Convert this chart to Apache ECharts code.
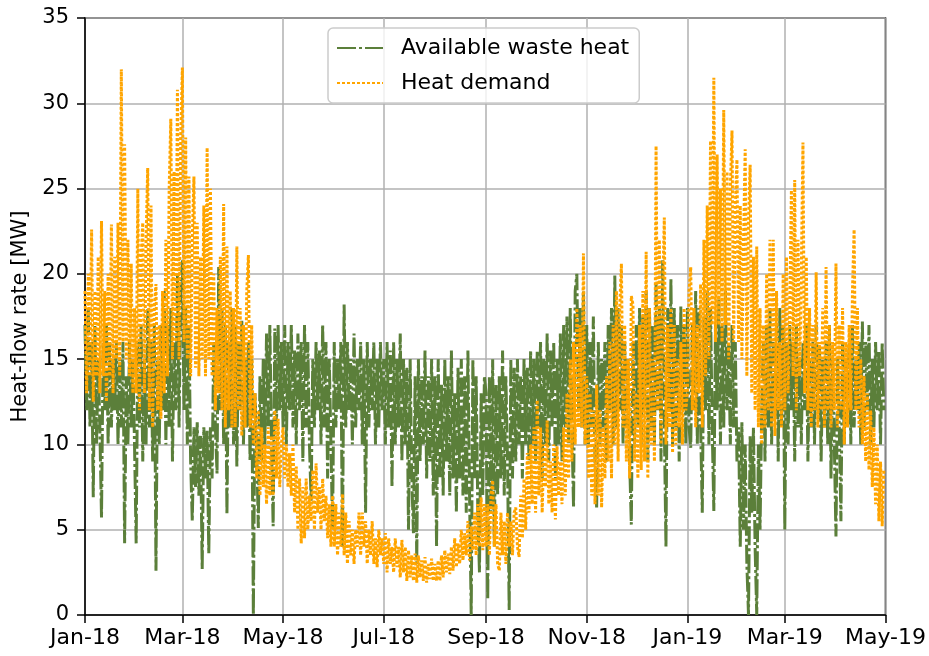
<!DOCTYPE html>
<html>
<head>
<meta charset="utf-8">
<script src="https://cdn.jsdelivr.net/npm/echarts@6/dist/echarts.min.js"></script>
<style>
  html, body { margin: 0; padding: 0; background: #ffffff; }
  #chart { width: 929px; height: 656px; }
</style>
</head>
<body>
<div id="chart"></div>
<script>
// Daily samples starting on this date (year, month index, day)
const startDate = [2018, 0, 1];

// Axis tick dates (every second month)
const tickDates = ['2018-01-01', '2018-03-01', '2018-05-01', '2018-07-01', '2018-09-01',
                   '2018-11-01', '2019-01-01', '2019-03-01', '2019-05-01'];
const monthNames = ['Jan', 'Feb', 'Mar', 'Apr', 'May', 'Jun', 'Jul', 'Aug', 'Sep', 'Oct', 'Nov', 'Dec'];

const seriesNames = ['Available waste heat', 'Heat demand'];

// Available waste heat [MW], one value per day
const wasteHeat = [
  // Jan 2018
  17,12,18,11,16,6.9,17,10,15,11,5.7,16,12,17,10,16,11,15,12,16,10,15,11,16,4.2,14,10,16,11,15,10,
  // Feb 2018
  4.2,16,11,17,9,15,10,18,11,16,9,17,2.6,15,10,17,12,19,10,17,11,18,9,16,12,20,11,19,
  // Mar 2018
  20.8,12,18,10,17,9,5.5,11,7.5,11.3,7,10.5,2.7,11,8,10.8,3.6,11,8,16,11,8.3,20.4,12,18,10,17,5.9,16,11,18,
  // Apr 2018
  10,17,8.7,16,12,17.3,10,15,11,16,9,15,0,13,10,5.1,14,9,15,10,16.5,11,17,10,5.2,16.8,11,17,12,16,
  // May 2018
  11,17,10,16,12,17,11,15.5,10,16.5,12,16,9,17,11,16,10,6.7,15,11,16,12,15.5,10,17,11,16,8,15,10,5,
  // Jun 2018
  16,11,15,12,16,4,18.2,11,16,12,15,10,16.5,11,15,12,16,10,15,6,16,11,15,12,16,10,15,11,16,12,
  // Jul 2018
  15,10,16,11,15.5,7.5,16,10,15,11,16.5,9,15,10,14.5,5,15,8,4.8,14,3,15,9,14,10,15.5,8,14,9,15,7,
  // Aug 2018
  14,4,15,8,13.5,7,15,9,14,7,15.5,8,13,6,14.5,8,15,7,14,6,15.5,7,0,15,8,14,6,2.5,13,7,14,
  // Sep 2018
  13,0.9,14,6,15,4,13.5,7,14,8,15.5,7,14,9,0.3,15,8,14.5,9,15,10,14,8,15,10,14.5,9,15.5,10,15,
  // Oct 2018
  9,15.5,11,16,8,15,10,16.5,9,15.5,11,16,8,15,10,16.5,9,17,11,17.5,10,18,11,6.3,19,20,12,18,11,19,10,
  // Nov 2018
  17,10,16,11,17.5,9,6.3,16,10,15,11,16,9,17,12,18,10,19.9,11,18,12,17,10,16,11,15,9,5.3,16,10,
  // Dec 2018
  17,11,18,10,17.5,12,19,9,18,11,17,10,19.5,12,18,9,20.8,11,4,18,12,19.7,10,18,11,17,9,18.1,12,17,10,
  // Jan 2019
  18,11,9.8,17,12,19,10,18,11,6,17.5,12,19,10,18,11,6.1,17,12,18.5,10,17,11,19,12,16,10,17,11,16,9,
  // Feb 2019
  11,4,11.3,5,10,3,0,10.5,6,11,4,0,10,5,12,16,9,17,11,18,10,16,12,17,9,18,11,17,
  // Mar 2019
  5,16,10,17,12,16,9,17,11,15,10,16,12,17,9,15,11,16,10,17,12,16,9,15,11,16,10,17,8,15,10,
  // Apr 2019
  4.6,15,11,5.5,16,10,15,12,16,10,17,11,15,12,16,10,17.2,11,16,12,17,10,15,11,16,12,15.5,10,16,12
];

// Heat demand [MW], one value per day
const heatDemand = [
  // Jan 2018
  19,13,20,14,22.6,12.5,19,14,21,13,23.1,14,19,12.5,20,14,22.9,13,21,15,23,14,32,16,27.6,15,22,14,20.6,13,18,
  // Feb 2018
  13,25,12,21,23,13,22,26.2,12,24,11,18,19.4,12,17,11.5,19,13,22,14,25,29.1,15,26,16,30.8,15,28,
  // Mar 2018
  32.1,16,28,15,25.7,14,22,25.7,14.5,23,14,21,15,24,14,27.4,15,25,14,20,12,18,13,21,12,24.1,11,21.6,12,19,11,
  // Apr 2018
  18,11,21.6,12,18,10.5,17,11,19,21.1,11,17,10,13,8,12,7,11,7.5,10,6.5,11,7,10.5,7,12,8,11.5,7.5,10,
  // May 2018
  11,8,10,7.5,9.5,7,10,6,8.7,5,8,4.2,7.5,4.5,8,5,7,5.5,8.5,5,8.9,6,7.5,5,8,5.5,7,4.5,6.5,4,7,
  // Jun 2018
  4,6.5,3.5,6,4,7.1,3.5,6,3,5.5,3.5,5,3,5,4,6,3.5,6,4,5.5,3,5,3.5,5.5,3,4.5,2.8,5,3.5,4.5,
  // Jul 2018
  3,4.8,2.5,4.5,3,4,2.5,4.5,2.8,4,2.2,4.4,2.5,4,2,3.8,2.2,3.5,2,3.6,1.9,3.5,2.2,3.2,2,3.4,1.9,3,2.1,3.3,2,
  // Aug 2018
  3,2,3.2,2,3.5,2.2,3.8,2.5,3.6,2.4,4,2.6,4.5,2.8,4.2,3,5,3.2,4.8,3.5,5.5,3.2,5.2,3.8,6,3.5,6.5,4,6.9,3.8,6.5,
  // Sep 2018
  4,6.5,3.5,7,7.9,4,6.5,3,2.6,6,3.5,5.5,3,6,4,5.5,3.5,6,6.3,4,3.4,7,4.5,8,5,9.5,6,10,6.5,11,
  // Oct 2018
  6,12.6,7,11,6,10,7.5,11.4,6.5,9,6,10,5.6,9.9,7,9,6.5,11,7,13,8,15,9,16,10,18,11,17,11,21.2,10,
  // Nov 2018
  14,8,13,7,12,6.5,13.5,7,12,6.3,11,8,14,9,16,8,17,10,19,9,18,20.6,11,17,9,15,8,18.7,18.2,9,
  // Dec 2018
  13,8,17,8.5,19,9,21.3,8,18,10,15,9,27.5,12,22,10,19,23.3,10,17,11,18,9.5,17,10,15,11,16,10,18,12,
  // Jan 2019
  13,19,20.4,12,18,11,17,13,19.4,11,22,14,24,15,27.8,17,31.5,16,27,17,25,16,29.6,17,26,15,25,28.4,16,24,26.7,
  // Feb 2019
  16,24,15,22,27.3,14,23,26.4,13,21,12,21.6,11,18,10,17,11,20,12,22,11,22,10.5,19,12,16,11,20,
  // Mar 2019
  12,21,13,18,24.9,14,25.5,12,22,14,20,27.7,13,21,12,18,11,17,12,20.1,11,16,12,18,11,20.4,12,17,11,16,12,
  // Apr 2019
  20.6,11,17,12,18,10,16,11,17,12,19,22.6,12,18,11,15,10,14,9,13,8.5,12,7.5,11,6.5,10,5.5,9,5.2,8.5
];

function dayTime(i) {
  return new Date(startDate[0], startDate[1], startDate[2] + i).getTime();
}
function toPairs(values) {
  return values.map(function (v, i) { return [dayTime(i), v]; });
}
function parseDate(s) {
  const p = s.split('-').map(Number);
  return new Date(p[0], p[1] - 1, p[2]).getTime();
}
const tickValues = tickDates.map(parseDate);
function formatTick(v) {
  const d = new Date(v);
  return monthNames[d.getMonth()] + '-' + String(d.getFullYear()).slice(2);
}

const font = 'DejaVu Sans';
const gridColor = '#b0b0b0';
const green = '#5b7f3a';
const orange = '#ffa500';

const chart = echarts.init(document.getElementById('chart'), null, { renderer: 'canvas' });
chart.setOption({
  animation: false,
  backgroundColor: '#ffffff',
  grid: {
    left: 85, right: 42, top: 18, bottom: 41,
    show: true, borderColor: '#000000', borderWidth: 1.5, backgroundColor: 'transparent'
  },
  xAxis: {
    // timestamps on a linear axis; ticks placed on the first of every second month
    type: 'value',
    min: tickValues[0],
    max: tickValues[tickValues.length - 1],
    axisLine: { show: true, onZero: false, lineStyle: { color: '#000000', width: 1.5 } },
    axisTick: { show: true, length: 8, lineStyle: { color: '#000000', width: 1.5 }, customValues: tickValues },
    axisLabel: {
      customValues: tickValues,
      formatter: formatTick,
      color: '#000000', fontSize: 22, fontFamily: font, margin: 12,
      hideOverlap: false, showMinLabel: true, showMaxLabel: true
    },
    splitLine: { show: true, lineStyle: { color: gridColor, width: 1.5 } }
  },
  yAxis: {
    type: 'value',
    min: 0, max: 35, interval: 5,
    name: 'Heat-flow rate [MW]',
    nameLocation: 'middle',
    nameGap: 52,
    nameTextStyle: { color: '#000000', fontSize: 21, fontFamily: font },
    axisLine: { show: true, lineStyle: { color: '#000000', width: 1.5 } },
    axisTick: { show: true, length: 8, lineStyle: { color: '#000000', width: 1.5 } },
    axisLabel: { color: '#000000', fontSize: 21, fontFamily: font, margin: 16 },
    splitLine: { show: true, lineStyle: { color: gridColor, width: 1.5 } }
  },
  legend: {
    data: seriesNames,
    orient: 'vertical',
    left: 328, top: 28,
    padding: [9, 10, 9, 8],
    itemWidth: 46, itemHeight: 14, itemGap: 13,
    backgroundColor: 'rgba(255,255,255,0.8)',
    borderColor: '#cccccc', borderWidth: 1.5, borderRadius: 5,
    itemStyle: { opacity: 0 },
    textStyle: { color: '#000000', fontSize: 22, fontFamily: font, padding: [0, 0, 0, 13] }
  },
  series: [
    {
      name: seriesNames[0],
      type: 'line',
      data: toPairs(wasteHeat),
      symbol: 'none',
      z: 2,
      itemStyle: { color: green },
      lineStyle: { color: green, width: 3, type: [19, 3, 3, 3] }
    },
    {
      name: seriesNames[1],
      type: 'line',
      data: toPairs(heatDemand),
      symbol: 'none',
      z: 3,
      itemStyle: { color: orange },
      lineStyle: { color: orange, width: 3, type: [3, 2] }
    }
  ]
});
</script>
</body>
</html>
